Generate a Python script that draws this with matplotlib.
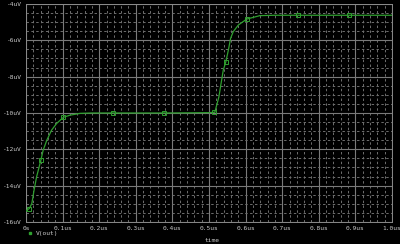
import matplotlib
matplotlib.use("Agg")
import matplotlib.pyplot as plt
from matplotlib.ticker import MultipleLocator, FuncFormatter

# Data (time in us, voltage in uV)
t = [0.0, 0.002, 0.009, 0.016, 0.022, 0.029, 0.036, 0.041, 0.047, 0.057, 0.070,
     0.084, 0.102, 0.120, 0.148, 0.180, 0.239, 0.300, 0.377, 0.450, 0.500, 0.516,
     0.527, 0.533, 0.539, 0.546, 0.553, 0.559, 0.566, 0.580, 0.603, 0.639, 0.680,
     0.743, 0.883, 1.0]
v = [-15.40, -15.35, -15.26, -14.98, -14.25, -13.51, -12.96, -12.56, -12.04, -11.49, -10.94,
     -10.57, -10.24, -10.12, -10.02, -10.0, -10.0, -10.0, -10.0, -9.99, -9.98, -9.96,
     -9.11, -8.37, -7.64, -7.18, -6.53, -5.89, -5.53, -5.16, -4.83, -4.64, -4.62,
     -4.62, -4.62, -4.62]
marker_t = [0.009, 0.041, 0.102, 0.239, 0.377, 0.515, 0.546, 0.603, 0.743, 0.883]
marker_v = [-15.26, -12.56, -10.24, -10.0, -10.0, -9.96, -7.18, -4.83, -4.62, -4.62]
x_ticks = [0.0, 0.1, 0.2, 0.3, 0.4, 0.5, 0.6, 0.7, 0.8, 0.9, 1.0]
y_ticks = [-16, -14, -12, -10, -8, -6, -4]
series_name = "V(out)"
x_label = "time"

green = "#2f9f2f"
txt = "#c8c8c8"

fig = plt.figure(figsize=(4.0, 2.44), dpi=100, facecolor="black")
ax = fig.add_axes([0.065, 0.0902, 0.915, 0.8934], facecolor="black")

ax.plot(t, v, color=green, lw=0.9, zorder=3)
ax.plot(marker_t, marker_v, ls="none", marker="s", ms=2.6, mfc="none",
        mec=green, mew=0.7, zorder=4)

ax.set_xlim(0, 1.0)
ax.set_ylim(-16, -4)
ax.set_xticks(x_ticks)
ax.set_yticks(y_ticks)
ax.xaxis.set_minor_locator(MultipleLocator(0.02))
ax.yaxis.set_minor_locator(MultipleLocator(0.5))

def xfmt(x, pos):
    if abs(x) < 1e-9:
        return "0s"
    return ("%.1fus" % x)
def yfmt(y, pos):
    return "%duV" % round(y)
ax.xaxis.set_major_formatter(FuncFormatter(xfmt))
ax.yaxis.set_major_formatter(FuncFormatter(yfmt))

ax.grid(which="major", color="#7a7a7a", lw=0.8, ls="-")
ax.grid(which="minor", color="#6e6e6e", lw=0.7, ls=(0, (2.5, 2.5)))
ax.set_axisbelow(True)

ax.tick_params(which="both", length=0, colors=txt, labelsize=4.5, pad=3)
for lab in ax.get_xticklabels() + ax.get_yticklabels():
    lab.set_family("DejaVu Sans Mono")
for s in ax.spines.values():
    s.set_color("#8a8a8a")
    s.set_linewidth(0.7)

fig.text(205 / 400, 1 - 240 / 244, x_label, color=txt, fontsize=4.5,
         family="DejaVu Sans Mono", ha="left", va="center")
fig.text(36 / 400, 1 - 233 / 244, series_name, color=txt, fontsize=4.5,
         family="DejaVu Sans Mono", ha="left", va="center")
fig.lines.append(plt.Line2D([29.5 / 400], [1 - 233 / 244], transform=fig.transFigure,
                            marker="s", ms=1.8, color=green, ls="none"))

fig.savefig("out.png", dpi=100, facecolor="black")
